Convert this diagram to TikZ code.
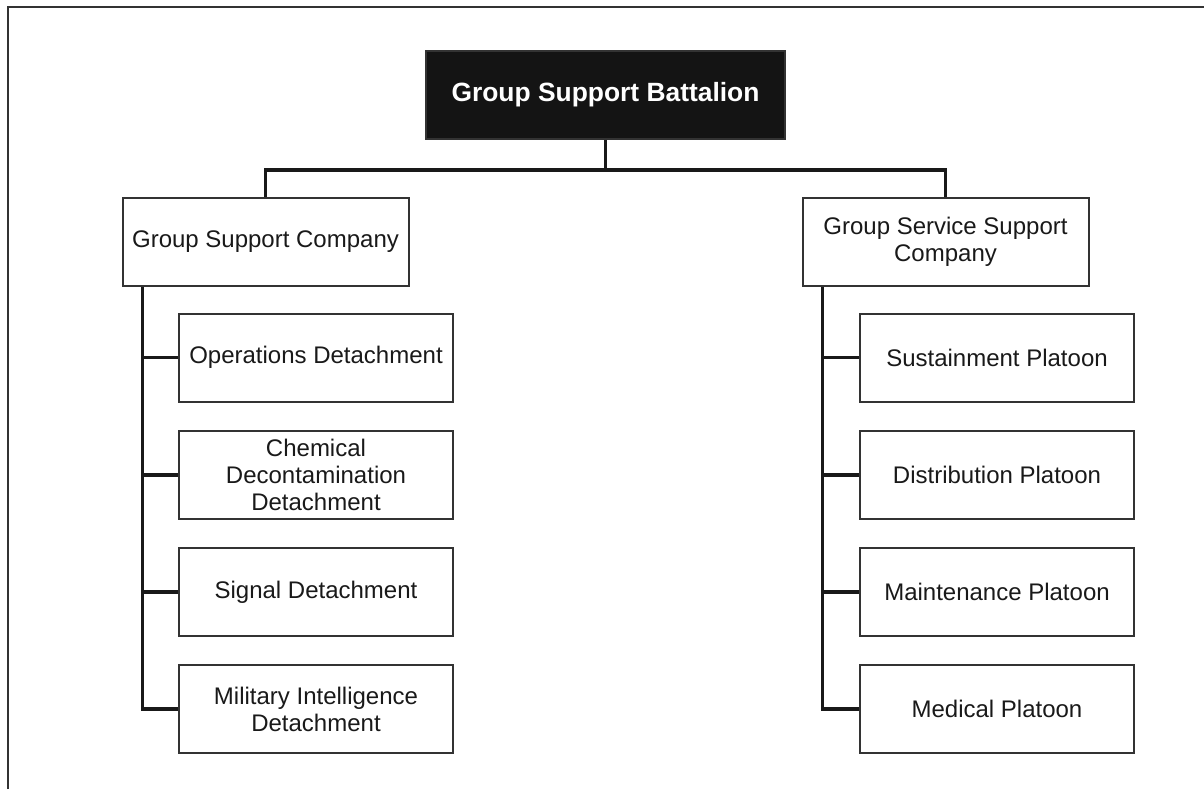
\documentclass[tikz,border=0pt]{standalone}
\usepackage{fontspec}
\setmainfont{Liberation Sans}

\begin{document}
\begin{tikzpicture}
  [x=0.5pt, y=-0.5pt,
   every node/.style={draw=black!80, line width=1pt, align=center, inner sep=2pt,
                      font=\fontsize{12}{13.5}\selectfont, text=black!90},
   company/.style={minimum width=143pt, minimum height=44pt},
   unit/.style={minimum width=137pt, minimum height=44pt},
   battalion/.style={fill=black!92, text=white, minimum width=179.5pt, minimum height=44pt,
                     font=\fontsize{13.2}{15}\selectfont\bfseries},
   link/.style={line width=1.8pt, black!90},
   level distance=73.5pt, sibling distance=340pt,
   edge from parent/.style={draw, link},
   edge from parent path={(\tikzparentnode.south) |- ([yshift=13.5pt]\tikzchildnode.north)
                          -- (\tikzchildnode.north)}]

  \useasboundingbox (0,0) rectangle (1204,789);
  \draw[line width=1.4pt, black!80] (8,789) |- (1204,7);

  \node[battalion] (gsb) at (605.5,95) {Group Support Battalion}
     child {node[company] (gsc) {Group Support Company}}
     child {node[company] (gssc) {Group Service Support\\Company}};

  % group support company
  \node[unit] (ops)    at (316,357.5) {Operations Detachment};
  \node[unit] (chem)   at (316,475)   {Chemical\\Decontamination\\Detachment};
  \node[unit] (signal) at (316,592)   {Signal Detachment};
  \node[unit] (mi)     at (316,709)   {Military Intelligence\\Detachment};

  % group service support company
  \node[unit] (sust)  at (997,357.5) {Sustainment Platoon};
  \node[unit] (dist)  at (997,475)   {Distribution Platoon};
  \node[unit] (maint) at (997,592)   {Maintenance Platoon};
  \node[unit] (med)   at (997,709)   {Medical Platoon};

  \draw[link] ([xshift=10.5pt]gsc.south west) |- (ops.west);
  \draw[link] ([xshift=10.5pt]gsc.south west) |- (chem.west);
  \draw[link] ([xshift=10.5pt]gsc.south west) |- (signal.west);
  \draw[link] ([xshift=10.5pt]gsc.south west) |- (mi.west);

  \draw[link] ([xshift=10.5pt]gssc.south west) |- (sust.west);
  \draw[link] ([xshift=10.5pt]gssc.south west) |- (dist.west);
  \draw[link] ([xshift=10.5pt]gssc.south west) |- (maint.west);
  \draw[link] ([xshift=10.5pt]gssc.south west) |- (med.west);
\end{tikzpicture}
\end{document}
